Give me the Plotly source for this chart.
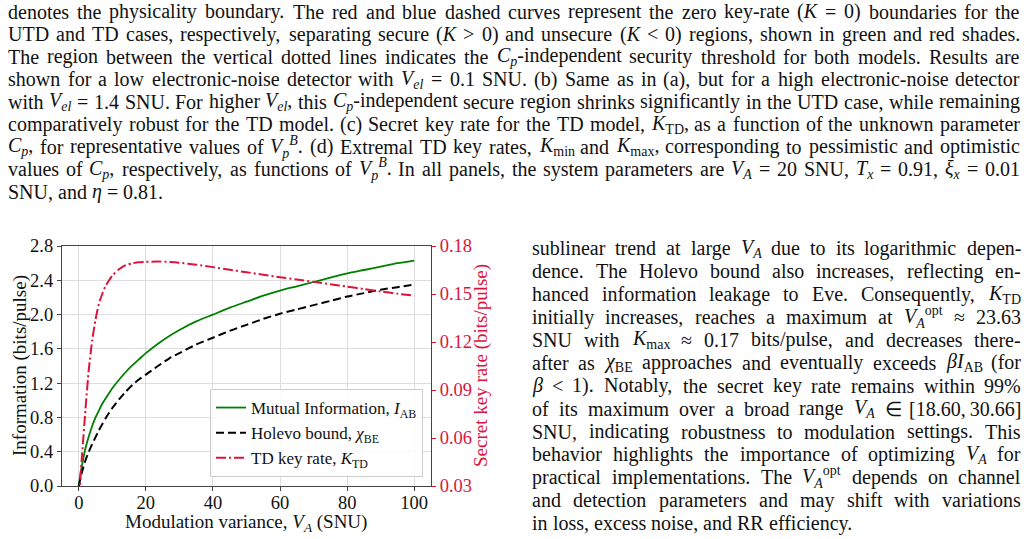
import re
import html
import plotly.graph_objects as go

# ---------------- data ----------------
V_A = [0, 0.5, 1, 2, 3, 4, 5, 6, 7, 8, 10, 12, 14, 16, 18, 20, 23.6, 27, 30, 35, 40,
       45, 50, 55, 60, 65, 70, 75, 80, 85, 90, 95, 100]
I_AB = [0, 0.14, 0.25, 0.44, 0.58, 0.70, 0.80, 0.88, 0.96, 1.02, 1.14, 1.24, 1.33, 1.41, 1.48, 1.55,
        1.66, 1.75, 1.82, 1.92, 2.00, 2.08, 2.15, 2.22, 2.28, 2.33, 2.38, 2.43, 2.48, 2.52, 2.56, 2.60, 2.63]
CHI_BE = [0, 0.09, 0.17, 0.30, 0.40, 0.49, 0.57, 0.65, 0.72, 0.79, 0.91, 1.01, 1.10, 1.18, 1.245, 1.30,
          1.40, 1.49, 1.55, 1.65, 1.73, 1.81, 1.88, 1.95, 2.01, 2.06, 2.11, 2.16, 2.21, 2.25, 2.29, 2.32, 2.35]
K_TD = [0, 0.035, 0.050, 0.078, 0.103, 0.121, 0.134, 0.144, 0.150, 0.155, 0.1615, 0.1655, 0.168, 0.1692,
        0.1698, 0.1701, 0.1703, 0.1700, 0.1695, 0.1683, 0.1668, 0.1652, 0.1636, 0.1620, 0.1605, 0.1590,
        0.1576, 0.1561, 0.1546, 0.1531, 0.1516, 0.1502, 0.1489]

X_TICKS = [0, 20, 40, 60, 80, 100]
Y_TICKS = [0, 0.4, 0.8, 1.2, 1.6, 2.0, 2.4, 2.8]
Y2_TICKS = [0.03, 0.06, 0.09, 0.12, 0.15, 0.18]

NAMES = ["Mutual Information, <i>I</i><sub>AB</sub>",
         "Holevo bound, <i>χ</i><sub>BE</sub>",
         "TD key rate, <i>K</i><sub>TD</sub>"]

CAPTION_LINES = [
    "denotes the physicality boundary. The red and blue dashed curves represent the zero key-rate (<i>K</i> = 0) boundaries for the",
    "UTD and TD cases, respectively, separating secure (<i>K</i> &gt; 0) and unsecure (<i>K</i> &lt; 0) regions, shown in green and red shades.",
    "The region between the vertical dotted lines indicates the <i>C</i><sub><i>p</i></sub>-independent security threshold for both models. Results are",
    "shown for a low electronic-noise detector with <i>V</i><sub><i>el</i></sub> = 0.1 SNU. (b) Same as in (a), but for a high electronic-noise detector",
    "with <i>V</i><sub><i>el</i></sub> = 1.4 SNU. For higher <i>V</i><sub><i>el</i></sub>, this <i>C</i><sub><i>p</i></sub>-independent secure region shrinks significantly in the UTD case, while remaining",
    "comparatively robust for the TD model. (c) Secret key rate for the TD model, <i>K</i><sub>TD</sub>, as a function of the unknown parameter",
    "<i>C</i><sub><i>p</i></sub>, for representative values of <i>V</i><sub><i>p</i></sub><sup><i>B</i></sup>. (d) Extremal TD key rates, <i>K</i><sub>min</sub> and <i>K</i><sub>max</sub>, corresponding to pessimistic and optimistic",
    "values of <i>C</i><sub><i>p</i></sub>, respectively, as functions of <i>V</i><sub><i>p</i></sub><sup><i>B</i></sup>. In all panels, the system parameters are <i>V</i><sub><i>A</i></sub> = 20 SNU, <i>T</i><sub><i>x</i></sub> = 0.91, <i>ξ</i><sub><i>x</i></sub> = 0.01",
    "SNU, and <i>η</i> = 0.81.",
]

BODY_LINES = [
    "sublinear trend at large <i>V</i><sub><i>A</i></sub> due to its logarithmic depen-",
    "dence. The Holevo bound also increases, reflecting en-",
    "hanced information leakage to Eve. Consequently, <i>K</i><sub>TD</sub>",
    "initially increases, reaches a maximum at <i>V</i><sub><i>A</i></sub><sup>opt</sup> ≈ 23.63",
    "SNU with <i>K</i><sub>max</sub> ≈ 0.17 bits/pulse, and decreases there-",
    "after as <i>χ</i><sub>BE</sub> approaches and eventually exceeds <i>βI</i><sub>AB</sub> (for",
    "<i>β</i> &lt; 1). Notably, the secret key rate remains within 99%",
    "of its maximum over a broad range <i>V</i><sub><i>A</i></sub> ∈ [18.60,\u200930.66]",
    "SNU, indicating robustness to modulation settings. This",
    "behavior highlights the importance of optimizing <i>V</i><sub><i>A</i></sub> for",
    "practical implementations. The <i>V</i><sub><i>A</i></sub><sup>opt</sup> depends on channel",
    "and detection parameters and may shift with variations",
    "in loss, excess noise, and RR efficiency.",
]

# ---------------- text layout helpers ----------------
FONT = "Liberation Serif"
W = 1028
H = 539
L, R, T, B = 62, 597, 246, 53
PW = W - L - R
PH = H - T - B

ROMAN = {' ': 250, '!': 333, '%': 833, '(': 333, ')': 333, '+': 564, ',': 250, '-': 333, '.': 250,
         '/': 278, ':': 278, ';': 278, '<': 564, '=': 564, '>': 564, '?': 444, '[': 333, ']': 333,
         'A': 722, 'B': 667, 'C': 667, 'D': 722, 'E': 611, 'F': 556, 'G': 722, 'H': 722, 'I': 333,
         'J': 389, 'K': 722, 'L': 611, 'M': 889, 'N': 722, 'O': 722, 'P': 556, 'Q': 722, 'R': 667,
         'S': 556, 'T': 611, 'U': 722, 'V': 722, 'W': 944, 'X': 722, 'Y': 722, 'Z': 611,
         'a': 444, 'b': 500, 'c': 444, 'd': 500, 'e': 444, 'f': 333, 'g': 500, 'h': 500, 'i': 278,
         'j': 278, 'k': 500, 'l': 278, 'm': 778, 'n': 500, 'o': 500, 'p': 500, 'q': 500, 'r': 333,
         's': 389, 't': 278, 'u': 500, 'v': 500, 'w': 722, 'x': 500, 'y': 500, 'z': 444,
         'χ': 550, 'β': 500, 'η': 500, 'ξ': 440, '≈': 549, '∈': 713, '\u2009': 167, '\u00a0': 250}
for d in '0123456789':
    ROMAN[d] = 500
ITALIC = {'A': 611, 'B': 611, 'C': 667, 'I': 333, 'K': 667, 'T': 556, 'V': 611,
          'x': 444, 'p': 500, 'e': 444, 'l': 278}


def text_width(s, size):
    w = 0.0
    ital = 0
    scales = []
    for tok in re.split(r'(<[^>]+>)', s):
        if not tok:
            continue
        if tok.startswith('<'):
            closing = tok.startswith('</')
            tag = tok.strip('<>/').lower()
            if tag == 'i':
                ital += -1 if closing else 1
            elif tag in ('sub', 'sup'):
                if closing:
                    scales.pop()
                else:
                    scales.append(0.7)
            continue
        sc = 1.0
        for f in scales:
            sc *= f
        for ch in html.unescape(tok):
            if ital and ch in ITALIC:
                cw = ITALIC[ch]
            else:
                cw = ROMAN.get(ch, 500)
            w += cw * sc
    return w * size / 1000.0


annotations = []


def add_text(txt, px, py, size, anchor='left', color='#111111', angle=0):
    xp = (px - L) / PW
    yp = (T + PH - py) / PH
    annotations.append(dict(text=txt, x=xp, y=yp, xref='paper', yref='paper',
                            xanchor=anchor, yanchor='middle', showarrow=False,
                            borderpad=0, borderwidth=0, textangle=angle,
                            font=dict(family=FONT, size=size, color=color)))


def place_line(line, py, x0, x1, size, justify=True):
    words = line.split(' ')
    widths = [text_width(w, size) for w in words]
    n = len(words)
    if justify and n > 1:
        gap = (x1 - x0 - sum(widths)) / (n - 1)
        gap = max(gap, 0.15 * size)
    else:
        gap = 0.25 * size
    x = x0
    for i, (wd, ww) in enumerate(zip(words, widths)):
        if justify and i == n - 1 and n > 1:
            add_text(wd, x1, py, size, anchor='right')
        else:
            add_text(wd, x, py, size, anchor='left')
        x += ww + gap


TXT_SIZE = 20
for k, line in enumerate(CAPTION_LINES):
    place_line(line, 11.7 + 22.5 * k, 8, 1020, TXT_SIZE, justify=(k < len(CAPTION_LINES) - 1))
for k, line in enumerate(BODY_LINES):
    place_line(line, 248.3 + 22.9 * k, 532, 1021, TXT_SIZE, justify=(k < len(BODY_LINES) - 1))

# axis titles
add_text("Information (bits/pulse)", 20, 366, 19, anchor='center', angle=-90)
add_text("Secret key rate (bits/pulse)", 481, 366, 19, anchor='center', color='#DC143C', angle=-90)
add_text("Modulation variance, <i>V</i><sub><i>A</i></sub> (SNU)", 246, 523, 19, anchor='center')

# ---------------- figure ----------------
fig = go.Figure()
fig.add_trace(go.Scatter(x=V_A, y=I_AB, name=NAMES[0], mode='lines',
                         line=dict(color='#008000', width=1.8, shape='spline', smoothing=0.6)))
fig.add_trace(go.Scatter(x=V_A, y=CHI_BE, name=NAMES[1], mode='lines',
                         line=dict(color='black', width=2, dash='8px,4px', shape='spline', smoothing=0.6)))
fig.add_trace(go.Scatter(x=V_A, y=K_TD, name=NAMES[2], mode='lines', yaxis='y2',
                         line=dict(color='#DC143C', width=2, dash='10px,3px,2px,3px',
                                   shape='spline', smoothing=0.6)))

axis_common = dict(showline=True, linecolor='#444444', linewidth=1.2, ticks='outside', ticklen=4,
                   tickcolor='#444444', zeroline=False,
                   tickfont=dict(family=FONT, size=18.5, color='#111111'))

fig.update_layout(
    width=W, height=H,
    margin=dict(l=L, r=R, t=T, b=B, pad=0),
    paper_bgcolor='white', plot_bgcolor='white',
    showlegend=True,
    xaxis=dict(range=[-5, 105], tickmode='array', tickvals=X_TICKS, showgrid=True,
               gridcolor='#dedede', gridwidth=1, mirror=True, ticklabelstandoff=-4, **axis_common),
    yaxis=dict(range=[0, 2.8], tickmode='array', tickvals=Y_TICKS, tickformat='.1f', showgrid=True,
               gridcolor='#dedede', gridwidth=1, mirror=True, **axis_common),
    yaxis2=dict(range=[0.03, 0.18], tickmode='array', tickvals=Y2_TICKS, tickformat='.2f',
                overlaying='y', side='right', showgrid=False, showline=False, zeroline=False,
                ticks='outside', ticklen=4, tickcolor='#DC143C',
                tickfont=dict(family=FONT, size=18.5, color='#DC143C')),
    legend=dict(x=(423 - L) / PW, y=(T + PH - 477) / PH, xanchor='right', yanchor='bottom',
                bgcolor='rgba(255,255,255,0.85)', bordercolor='#cccccc', borderwidth=1,
                font=dict(family=FONT, size=17, color='#111111'), traceorder='normal'),
    annotations=annotations,
)

fig.write_html("out.html")
